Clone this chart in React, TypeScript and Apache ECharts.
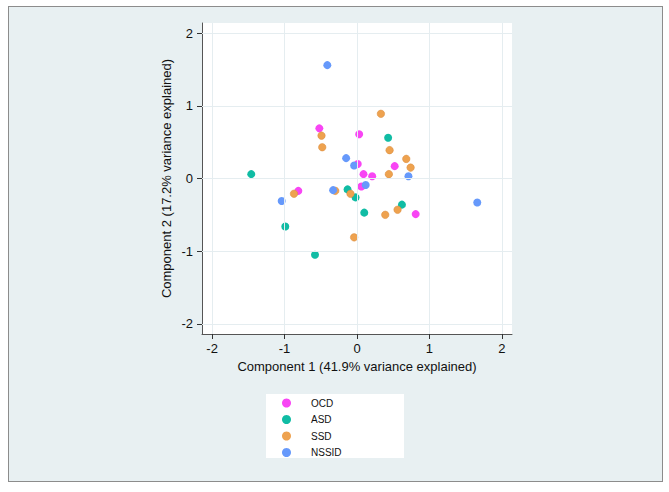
import React, { useEffect, useRef } from "react";
import * as echarts from "echarts";

const groups = ["OCD", "ASD", "SSD", "NSSID"];
const groupColors = ["#f845f4", "#10bca4", "#eea24f", "#6699fb"];

const ocdPoints = [
  [-0.52, 0.69], [0.03, 0.61], [0.01, 0.2], [0.09, 0.06], [0.21, 0.03],
  [0.52, 0.17], [0.06, -0.11], [-0.81, -0.17], [0.81, -0.49],
];
const asdPoints = [
  [-1.46, 0.06], [0.43, 0.56], [-0.13, -0.15], [-0.02, -0.26], [0.1, -0.47],
  [0.62, -0.36], [-0.99, -0.66], [-0.58, -1.05],
];
const ssdPoints = [
  [0.33, 0.89], [-0.49, 0.59], [-0.48, 0.43], [0.45, 0.39], [0.68, 0.27],
  [0.74, 0.15], [0.44, 0.06], [-0.3, -0.17], [-0.09, -0.21], [-0.87, -0.21],
  [0.56, -0.43], [0.39, -0.5], [-0.04, -0.81],
];
const nssidPoints = [
  [-0.41, 1.56], [-0.15, 0.28], [-0.04, 0.18], [0.71, 0.03], [0.12, -0.09],
  [-0.33, -0.16], [-1.04, -0.31], [1.66, -0.33],
];
const groupData = [ocdPoints, asdPoints, ssdPoints, nssidPoints];

const tickValues = [-2, -1, 0, 1, 2];
const xTitle = "Component 1 (41.9% variance explained)";
const yTitle = "Component 2 (17.2% variance explained)";

const FONT = "'Liberation Sans', Arial, sans-serif";

export default function App() {
  const ref = useRef<HTMLDivElement>(null);

  useEffect(() => {
    document.body.style.margin = "0";
    if (!ref.current) return;
    const chart = echarts.init(ref.current, null, { renderer: "svg" });

    const axisCommon = {
      type: "value" as const,
      min: -2.14,
      max: 2.14,
      nameLocation: "middle" as const,
      nameTextStyle: { fontSize: 13, color: "#111", fontFamily: FONT },
      axisLine: { show: true, onZero: false, lineStyle: { color: "#555", width: 1 } },
      axisTick: {
        show: true,
        length: 5,
        customValues: tickValues,
        lineStyle: { color: "#333", width: 1 },
      },
      axisLabel: {
        customValues: tickValues,
        fontSize: 13,
        color: "#111",
        fontFamily: FONT,
      },
      splitLine: { show: false },
    };

    const scatterSeries = groups.map((g, i) => ({
      name: g,
      type: "scatter" as const,
      data: groupData[i],
      symbol: "circle",
      symbolSize: g === "SSD" ? 7.5 : 8,
      z: 3,
      itemStyle:
        g === "SSD"
          ? { color: groupColors[i], borderColor: "#d98b3c", borderWidth: 0.5, opacity: 1 }
          : { color: groupColors[i], opacity: 1 },
    }));

    chart.setOption({
      animation: false,
      textStyle: { fontFamily: FONT },
      grid: {
        left: 202,
        top: 23,
        right: 157,
        bottom: 158,
        show: true,
        backgroundColor: "#ffffff",
        borderWidth: 0,
      },
      xAxis: {
        ...axisCommon,
        name: xTitle,
        nameGap: 21,
        axisLabel: { ...axisCommon.axisLabel, margin: 8 },
      },
      yAxis: {
        ...axisCommon,
        name: yTitle,
        nameGap: 29,
        axisLabel: { ...axisCommon.axisLabel, margin: 9 },
      },
      graphic: [
        {
          type: "rect",
          z: 0,
          shape: { x: 266, y: 394, width: 138, height: 64 },
          style: { fill: "#ffffff" },
        },
      ],
      legend: {
        data: groups.map((g) => ({ name: g, itemStyle: { borderWidth: 0, opacity: 1 } })),
        orient: "vertical",
        left: 282,
        top: 398,
        padding: 0,
        itemWidth: 9,
        itemHeight: 10,
        itemGap: 6.5,
        icon: "circle",
        textStyle: {
          fontSize: 10,
          lineHeight: 10,
          color: "#111",
          fontFamily: FONT,
          padding: [0, 0, 0, 15],
        },
      },
      series: [
        {
          name: "grid-lines",
          type: "scatter",
          data: [],
          z: 1,
          silent: true,
          markLine: {
            silent: true,
            symbol: "none",
            label: { show: false },
            lineStyle: { color: "#e5edf0", width: 1, type: "solid" },
            data: [
              ...tickValues.map((v) => ({ xAxis: v })),
              ...tickValues.map((v) => ({ yAxis: v })),
            ],
          },
        },
        ...scatterSeries,
      ],
    });

    return () => {
      chart.dispose();
    };
  }, []);

  return (
    <div style={{ position: "relative", width: 669, height: 492, background: "#ffffff" }}>
      <div
        style={{
          position: "absolute",
          left: 8,
          top: 6,
          width: 655,
          height: 476,
          boxSizing: "border-box",
          background: "#e8f0f2",
          border: "1px solid #8c8c8c",
        }}
      />
      <div ref={ref} style={{ position: "absolute", left: 0, top: 0, width: 669, height: 492 }} />
    </div>
  );
}
